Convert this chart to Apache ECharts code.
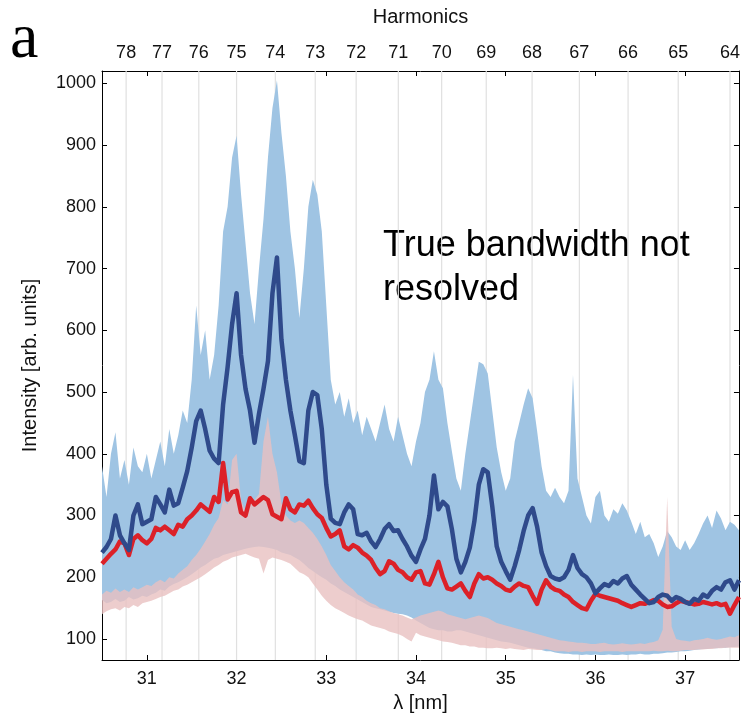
<!DOCTYPE html>
<html>
<head>
<meta charset="utf-8">
<script src="https://cdn.jsdelivr.net/npm/echarts@6/dist/echarts.min.js"></script>
<style>
html,body{margin:0;padding:0;background:#fff;}
#chart{width:743px;height:718px;}
</style>
</head>
<body>
<div id="chart"></div>
<script>
// Wavelength grid (nm)
const LAMBDA = [
30.50,30.55,30.60,30.65,30.70,30.75,30.80,30.85,30.90,30.95,
31.00,31.05,31.10,31.15,31.20,31.25,31.30,31.35,31.40,31.45,
31.50,31.55,31.60,31.65,31.70,31.75,31.80,31.85,31.90,31.95,
32.00,32.05,32.10,32.15,32.20,32.25,32.30,32.35,32.40,32.45,
32.50,32.55,32.60,32.65,32.70,32.75,32.80,32.85,32.90,32.95,
33.00,33.05,33.10,33.15,33.20,33.25,33.30,33.35,33.40,33.45,
33.50,33.55,33.60,33.65,33.70,33.75,33.80,33.85,33.90,33.95,
34.00,34.05,34.10,34.15,34.20,34.25,34.30,34.35,34.40,34.45,
34.50,34.55,34.60,34.65,34.70,34.75,34.80,34.85,34.90,34.95,
35.00,35.05,35.10,35.15,35.20,35.25,35.30,35.35,35.40,35.45,
35.50,35.55,35.60,35.65,35.70,35.75,35.80,35.85,35.90,35.95,
36.00,36.05,36.10,36.15,36.20,36.25,36.30,36.35,36.40,36.45,
36.50,36.55,36.60,36.65,36.70,36.75,36.80,36.85,36.90,36.95,
37.00,37.05,37.10,37.15,37.20,37.25,37.30,37.35,37.40,37.45,
37.50,37.55,37.60];

// Mean spectrum (dark blue)
const MEAN_BLUE = [
240,249,262,300,268,255,244,300,318,286,
290,294,330,318,305,342,316,320,345,372,
410,453,470,440,405,392,385,480,540,610,
660,560,505,470,418,465,505,550,660,718,
585,520,470,430,388,385,470,500,495,440,
350,295,288,286,305,318,310,270,268,272,
258,249,262,278,286,275,276,262,250,235,
225,245,262,300,365,310,322,315,278,230,
208,225,248,290,350,375,370,315,250,225,
210,196,218,244,275,300,312,282,240,218,
202,198,196,200,212,236,215,205,200,190,
174,182,189,186,194,190,198,202,188,180,
172,165,158,160,168,172,170,162,168,165,
160,157,165,162,172,168,178,184,180,192,
195,180,195];

// Mean spectrum (red)
const MEAN_RED = [
222,230,238,245,258,255,236,262,268,260,
255,262,280,276,282,276,270,285,282,294,
300,308,318,312,306,330,322,385,326,338,
340,305,300,328,318,324,330,325,302,298,
294,328,310,305,318,316,324,312,302,296,
280,266,270,276,250,245,252,248,240,235,
228,215,205,210,226,222,212,208,200,196,
208,210,190,188,205,225,200,182,180,185,
190,178,168,190,205,198,200,196,190,186,
180,178,185,190,186,184,170,157,180,195,
185,180,178,172,168,160,155,150,148,162,
173,170,168,166,164,162,158,155,152,155,
158,157,160,163,162,156,152,153,158,162,
160,158,156,157,160,158,156,158,155,157,
141,155,168];

// Envelope of single-shot spectra (light blue)
const BLUE_UPPER = [
380,330,400,435,360,390,350,410,380,370,
400,360,390,420,380,440,400,430,470,450,
520,640,560,600,520,560,640,760,800,880,
915,820,740,660,610,700,780,880,960,1005,
920,850,760,700,620,700,800,844,820,760,
640,520,480,500,460,490,450,470,430,460,
440,420,450,480,440,420,460,430,400,380,
420,450,500,520,566,520,506,450,404,360,
340,400,450,500,549,545,530,470,410,370,
340,360,420,450,480,506,490,437,380,340,
330,345,330,320,340,528,360,330,300,287,
330,340,300,290,310,303,320,308,290,270,
290,265,270,255,233,250,275,265,250,244,
260,244,255,270,287,300,280,308,295,276,
290,285,276];

const BLUE_LOWER = [
163,158,160,165,160,162,168,164,166,170,
168,172,175,180,178,185,189,192,196,200,
205,210,216,220,225,230,232,236,238,240,
242,244,246,248,249,250,249,248,246,244,
240,238,236,232,228,222,215,210,205,200,
196,190,186,180,176,172,168,164,160,156,
152,150,148,146,144,142,141,140,138,135,
130,126,122,118,116,114,114,112,112,114,
114,112,110,108,106,104,102,100,98,96,
95,94,92,90,88,86,85,84,82,80,
80,78,77,76,76,75,75,74,75,74,
75,74,74,75,74,74,75,74,75,75,
76,75,75,76,76,77,78,78,79,80,
80,81,82,83,84,84,85,85,86,86,
87,87,88];

// Envelope of single-shot spectra (pink, visible part)
const PINK_LOWER = [
140,145,148,150,146,152,150,155,152,158,
160,162,165,168,170,174,178,180,185,188,
192,196,200,205,210,216,220,225,228,232,
234,236,238,235,232,230,206,228,232,230,
228,225,222,215,208,205,200,190,180,170,
162,155,150,146,142,138,135,132,130,126,
122,120,118,116,112,110,108,105,100,96,
110,106,104,102,100,98,96,95,94,92,
90,90,88,88,86,86,85,85,86,85,
84,85,84,83,82,84,83,82,82,84,
82,80,80,80,79,80,80,79,80,80,
80,79,80,80,80,80,79,80,80,80,
80,80,80,81,80,80,81,80,80,81,
82,82,82,83,83,84,84,85,85,86,
86,86,86];

const PINK_UPPER = [
172,178,175,182,176,180,176,184,180,184,
188,186,192,196,192,200,198,206,212,218,
228,236,246,258,270,285,296,325,318,390,
400,325,305,318,325,335,420,460,400,370,
320,300,292,288,292,288,280,272,262,250,
236,220,210,200,192,186,180,172,168,162,
158,155,150,148,145,142,140,138,135,132,
135,138,140,142,144,146,144,140,138,136,
134,132,134,136,138,136,134,130,126,124,
122,120,118,116,114,112,110,108,106,104,
102,100,98,97,96,95,94,94,93,92,
92,93,94,92,91,92,93,92,91,92,
93,92,94,95,98,115,330,120,100,98,
97,96,98,99,100,102,100,99,100,102,
104,103,106];

// Axes
const X_TICKS = [31,32,33,34,35,36,37];
const Y_TICKS = [100,200,300,400,500,600,700,800,900,1000];
const HARMONICS = [78,77,76,75,74,73,72,71,70,69,68,67,66,65,64];
const HARMONIC_LAMBDA = [30.769,31.169,31.579,32.000,32.432,32.877,33.333,33.803,34.286,34.783,35.294,35.821,36.364,36.923,37.500];

const X_MIN = 30.5, X_MAX = 37.6, Y_MIN = 66, Y_MAX = 1020;
const FONT = 'Liberation Sans';
const chart = echarts.init(document.getElementById('chart'), null, {renderer:'canvas'});

function band(name, lower, upper, color, opacity, z){
  return {
    type:'custom', name, z, silent:true, clip:true,
    xAxisIndex:0, yAxisIndex:0,
    data: LAMBDA.map((l,i)=>[l, lower[i], upper[i]]),
    encode:{x:0, y:[1,2]},
    renderItem:function(params, api){
      if (params.dataIndex !== 0) return null;
      const top = LAMBDA.map((l,i)=>api.coord([l, upper[i]]));
      const bot = LAMBDA.map((l,i)=>api.coord([l, lower[i]])).reverse();
      return {type:'polygon', shape:{points: top.concat(bot)}, style:{fill:color, opacity:opacity}};
    }
  };
}

const axisLineStyle = {show:true, lineStyle:{color:'#000', width:1}};
const labelStyle = {color:'#111', fontFamily:FONT, fontSize:18};

const option = {
  animation:false,
  backgroundColor:'#fff',
  grid:{left:102, right:2, top:71, bottom:55, containLabel:false},
  xAxis:[
    {type:'value', position:'bottom', min:X_MIN, max:X_MAX,
     axisLine:axisLineStyle,
     axisTick:{show:true, inside:true, length:5, customValues:X_TICKS, lineStyle:{color:'#000'}},
     axisLabel:Object.assign({customValues:X_TICKS, margin:10, formatter:v=>String(v)}, labelStyle),
     splitLine:{show:false},
     name:'λ [nm]', nameLocation:'middle', nameGap:33,
     nameTextStyle:{fontFamily:FONT, fontSize:20, color:'#111'}},
    {type:'value', position:'top', min:X_MIN, max:X_MAX,
     axisLine:axisLineStyle,
     axisTick:{show:true, inside:true, length:5, customValues:X_TICKS, lineStyle:{color:'#000'}},
     axisLabel:Object.assign({customValues:HARMONIC_LAMBDA, margin:9,
       formatter:function(v){const k=HARMONIC_LAMBDA.findIndex(h=>Math.abs(h-v)<1e-6); return k>=0?String(HARMONICS[k]):'';}}, labelStyle),
     splitLine:{show:false},
     name:'Harmonics', nameLocation:'middle', nameGap:44,
     nameTextStyle:{fontFamily:FONT, fontSize:20, color:'#111'}}
  ],
  yAxis:[
    {type:'value', position:'left', min:Y_MIN, max:Y_MAX,
     axisLine:axisLineStyle,
     axisTick:{show:true, inside:true, length:5, customValues:Y_TICKS, lineStyle:{color:'#000'}},
     axisLabel:Object.assign({customValues:Y_TICKS, margin:6, formatter:v=>String(v)}, labelStyle),
     splitLine:{show:false},
     name:'Intensity [arb. units]', nameLocation:'middle', nameGap:62, nameRotate:90,
     nameTextStyle:{fontFamily:FONT, fontSize:20, color:'#111'}},
    {type:'value', position:'right', min:Y_MIN, max:Y_MAX,
     axisLine:axisLineStyle,
     axisTick:{show:true, inside:true, length:5, customValues:Y_TICKS, lineStyle:{color:'#000'}},
     axisLabel:{show:false}, splitLine:{show:false}}
  ],
  series:[
    {type:'custom', name:'harmonic lines', z:1, silent:true, clip:true,
     data: HARMONIC_LAMBDA.map(v=>[v]), encode:{x:0},
     renderItem:function(params, api){
       const v = api.value(0);
       const p1 = api.coord([v, Y_MIN]), p2 = api.coord([v, Y_MAX]);
       return {type:'line', shape:{x1:p1[0], y1:p1[1], x2:p2[0], y2:p2[1]}, style:{stroke:'#e0e0e0', lineWidth:1.2}};
     }},
    band('shots blue', BLUE_LOWER, BLUE_UPPER, '#9fc4e3', 1, 2),
    band('shots red', PINK_LOWER, PINK_UPPER, '#e9c0c0', 0.8, 3),
    {type:'line', name:'mean red', data:LAMBDA.map((l,i)=>[l, MEAN_RED[i]]), z:5,
     showSymbol:false, symbol:'none', lineStyle:{color:'#dc2128', width:4.5, join:'round'}},
    {type:'line', name:'mean blue', data:LAMBDA.map((l,i)=>[l, MEAN_BLUE[i]]), z:6,
     showSymbol:false, symbol:'none', lineStyle:{color:'#2f4a8b', width:4.5, join:'round'}}
  ],
  graphic:[
    {type:'text', left:10, top:8, style:{text:'a', font:'64px "Liberation Serif"', fill:'#000'}},
    {type:'text', left:383, top:224, style:{text:'True bandwidth not\nresolved', font:'36px "Liberation Sans"', lineHeight:44, fill:'#000'}}
  ]
};
chart.setOption(option);
</script>
</body>
</html>
